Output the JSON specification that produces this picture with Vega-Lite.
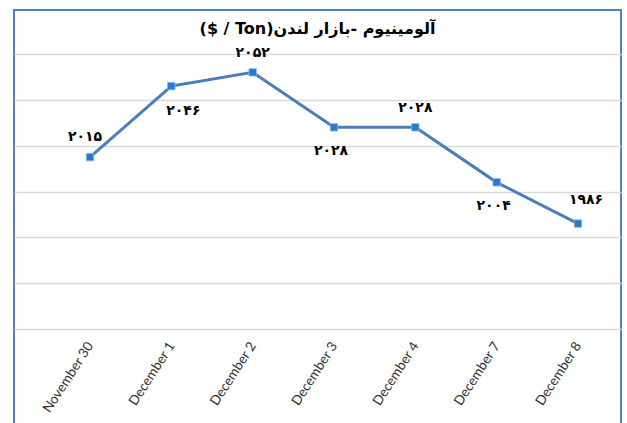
{
  "$schema": "https://vega.github.io/schema/vega-lite/v6.json",
  "width": 607,
  "height": 415,
  "autosize": "none",
  "padding": {"left": 14, "top": 10, "right": 6, "bottom": 0},
  "background": "white",
  "config": {"view": {"stroke": "#4F81BD", "strokeWidth": 2}},
  "title": {
    "text": "\u202Bآلومینیوم -بازار لندن(Ton / $)\u202C",
    "font": "DejaVu Sans",
    "fontSize": 16,
    "fontWeight": "bold",
    "color": "#000000",
    "anchor": "middle",
    "offset": -27
  },
  "data": {
    "values": [
      {"date": "November 30", "value": 2015, "label": "۲۰۱۵"},
      {"date": "December 1", "value": 2046, "label": "۲۰۴۶"},
      {"date": "December 2", "value": 2052, "label": "۲۰۵۲"},
      {"date": "December 3", "value": 2028, "label": "۲۰۲۸"},
      {"date": "December 4", "value": 2028, "label": "۲۰۲۸"},
      {"date": "December 7", "value": 2004, "label": "۲۰۰۴"},
      {"date": "December 8", "value": 1986, "label": "۱۹۸۶"}
    ]
  },
  "encoding": {
    "x": {
      "field": "date",
      "type": "ordinal",
      "sort": null,
      "scale": {"type": "point", "padding": 0.7316, "align": 0.6387},
      "axis": {
        "title": null,
        "orient": "bottom",
        "offset": -96,
        "domain": false,
        "ticks": false,
        "grid": false,
        "labelAngle": -57,
        "labelAlign": "right",
        "labelBaseline": "middle",
        "labelPadding": 14,
        "labelFont": "Lato",
        "labelFontSize": 13.5,
        "labelColor": "#303030"
      }
    },
    "y": {
      "field": "value",
      "type": "quantitative",
      "scale": {"domain": [1940, 2060], "range": [319, 44], "zero": false, "nice": false},
      "axis": {
        "title": null,
        "labels": false,
        "ticks": false,
        "domain": false,
        "grid": true,
        "values": [1940, 1960, 1980, 2000, 2020, 2040, 2060],
        "gridColor": "#d9d9d9",
        "gridWidth": 1.5
      }
    }
  },
  "layer": [
    {"mark": {"type": "line", "color": "#4A7EBB", "strokeWidth": 3}},
    {"mark": {"type": "point", "shape": "square", "filled": true, "size": 55, "color": "#2A78CF", "stroke": "#8DB8E8", "strokeWidth": 0.8, "opacity": 1}},
    {
      "transform": [{"filter": {"field": "date", "oneOf": ["November 30"]}}],
      "mark": {"type": "text", "dy": -20, "dx": -5, "font": "DejaVu Sans", "fontSize": 14, "fontWeight": "bold", "color": "#000000"},
      "encoding": {"text": {"field": "label"}}
    },
    {
      "transform": [{"filter": {"field": "date", "oneOf": ["December 2", "December 4"]}}],
      "mark": {"type": "text", "dy": -19, "font": "DejaVu Sans", "fontSize": 14, "fontWeight": "bold", "color": "#000000"},
      "encoding": {"text": {"field": "label"}}
    },
    {
      "transform": [{"filter": {"field": "date", "oneOf": ["December 8"]}}],
      "mark": {"type": "text", "dy": -24, "dx": 8, "font": "DejaVu Sans", "fontSize": 14, "fontWeight": "bold", "color": "#000000"},
      "encoding": {"text": {"field": "label"}}
    },
    {
      "transform": [{"filter": {"field": "date", "oneOf": ["December 3", "December 7"]}}],
      "mark": {"type": "text", "dy": 24, "dx": -3, "font": "DejaVu Sans", "fontSize": 14, "fontWeight": "bold", "color": "#000000"},
      "encoding": {"text": {"field": "label"}}
    },
    {
      "transform": [{"filter": {"field": "date", "oneOf": ["December 1"]}}],
      "mark": {"type": "text", "dy": 25, "dx": 12, "font": "DejaVu Sans", "fontSize": 14, "fontWeight": "bold", "color": "#000000"},
      "encoding": {"text": {"field": "label"}}
    }
  ]
}
